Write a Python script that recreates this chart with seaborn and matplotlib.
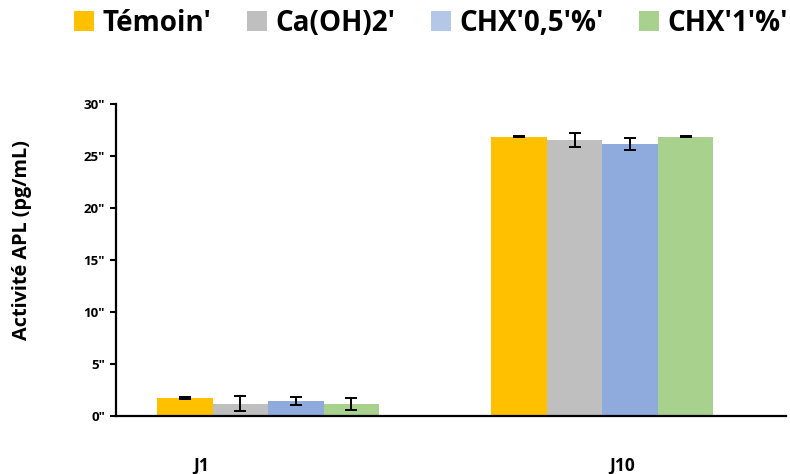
import pandas as pd
import numpy as np
import matplotlib
matplotlib.use('Agg')
import matplotlib.pyplot as plt
import seaborn as sns
from matplotlib.patches import Patch

# Data
days = ['J1', 'J10']
groups = ["Témoin'", "Ca(OH)2'", "CHX'0,5'%'", "CHX'1'%'"]
temoin = [1.73, 26.86]
caoh2 = [1.21, 26.54]
chx05 = [1.44, 26.15]
chx1 = [1.15, 26.86]
temoin_err = [0.12, 0.05]
caoh2_err = [0.72, 0.67]
chx05_err = [0.36, 0.60]
chx1_err = [0.58, 0.06]
y_ticks = [0, 5, 10, 15, 20, 25, 30]

bar_colors = ['#FFC000', '#BFBFBF', '#8FAADC', '#A9D18E']
legend_colors = ['#FFC000', '#BFBFBF', '#B4C7E7', '#A9D18E']

df = pd.DataFrame({
    'day': days * 4,
    'group': np.repeat(groups, 2),
    'value': temoin + caoh2 + chx05 + chx1,
    'err': temoin_err + caoh2_err + chx05_err + chx1_err,
})

sns.set_theme(style='white')
plt.rcParams['font.family'] = ['Open Sans', 'DejaVu Sans']
plt.rcParams['text.color'] = 'black'
plt.rcParams['axes.labelcolor'] = 'black'
plt.rcParams['xtick.color'] = 'black'
plt.rcParams['ytick.color'] = 'black'

fig = plt.figure(figsize=(7.9, 4.74), dpi=100)
ax = fig.add_axes([0.147, 0.122, 0.848, 0.659])

sns.barplot(data=df, x='day', y='value', hue='group', order=days, hue_order=groups,
            palette=bar_colors, width=0.665, errorbar=None, saturation=1,
            edgecolor='none', linewidth=0, ax=ax, legend=False)

# error bars on each bar center
for i, g in enumerate(groups):
    for j, d in enumerate(days):
        p = ax.patches[i * len(days) + j]
        row = df[(df.group == g) & (df.day == d)].iloc[0]
        ax.errorbar(p.get_x() + p.get_width() / 2, row['value'], yerr=row['err'],
                    fmt='none', ecolor='black', elinewidth=1.4, capsize=4, capthick=1.4)

ax.set_xlim(-0.455, 1.55)
ax.set_ylim(0, 30)
ax.set_yticks(y_ticks)
ax.set_yticklabels([f'{t}"' for t in y_ticks], fontsize=9.5, fontweight='bold')
ax.set_xticks([-0.2, 1.06])
ax.set_xticklabels(days, fontsize=12.5, fontweight='bold')
ax.tick_params(axis='x', length=0, pad=29)
ax.tick_params(axis='y', length=4, width=1.5, direction='out', pad=4, left=True)
ax.set_xlabel('')
ax.set_ylabel('Activité APL (pg/mL)', fontsize=14.3, fontweight='bold')
ax.yaxis.set_label_coords(-0.125, 0.565)

for s in ['top', 'right']:
    ax.spines[s].set_visible(False)
for s in ['left', 'bottom']:
    ax.spines[s].set_color('black')
    ax.spines[s].set_linewidth(1.6)

handles = [Patch(facecolor=c, edgecolor='none') for c in legend_colors]
fig.legend(handles, groups, loc='center left', bbox_to_anchor=(0.0937, 0.951), ncol=4,
           frameon=False, borderpad=0, borderaxespad=0,
           prop={'family': ['Open Sans', 'DejaVu Sans'], 'weight': 'bold', 'size': 20},
           handlelength=0.72, handleheight=0.72, handletextpad=0.32, columnspacing=1.26)

fig.savefig('out.png', dpi=100)
